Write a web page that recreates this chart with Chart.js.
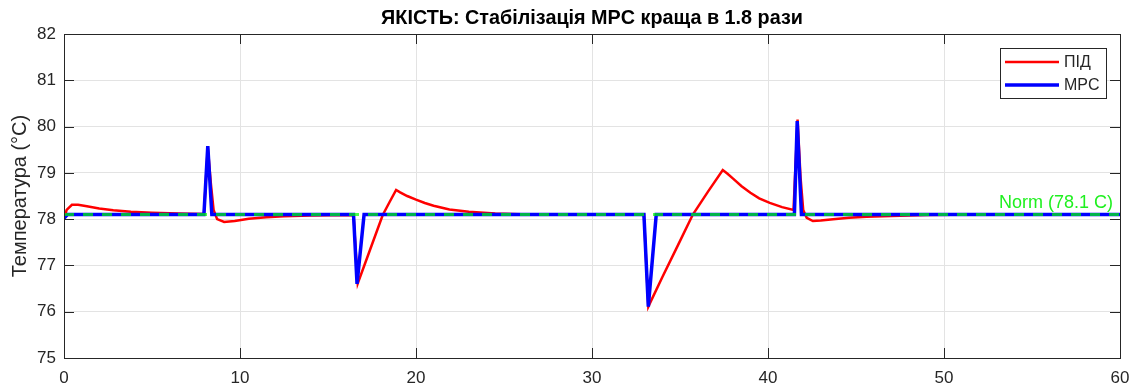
<!DOCTYPE html>
<html>
<head>
<meta charset="utf-8">
<title>ЯКІСТЬ</title>
<script src="https://cdn.jsdelivr.net/npm/chart.js@4"></script>
<style>
  html, body { margin: 0; padding: 0; background: #fff; }
  #wrap { width: 1135px; height: 389px; }
</style>
</head>
<body>
<div id="wrap"><canvas id="qualityChart" width="1135" height="389"></canvas></div>
<script>
// PID response (time, °C)
const pidTime = [0, 0.15, 0.45, 0.8, 1.3, 2.0, 2.8, 3.8, 5.0, 6.5, 7.95, 8.17, 8.35, 8.5, 8.7, 9.1, 9.7, 10.5, 11.5, 12.5, 14.0, 16.45,
  16.69, 17.4, 18.11, 18.5, 18.87, 19.1, 19.5, 20.0, 20.5, 21.0, 21.9, 23.0, 24.5, 26.5, 32.95,
  33.2, 34.0, 34.9, 35.73, 36.6, 37.43, 37.7, 38.0, 38.5, 39.0, 39.5, 40.1, 40.8, 41.45, 41.68, 41.85, 42.0, 42.2, 42.55,
  43.0, 43.7, 44.6, 45.6, 47.0, 49.0, 52.0, 60];
const pidTemp = [78.00, 78.20, 78.31, 78.31, 78.28, 78.23, 78.19, 78.16, 78.14, 78.12, 78.11, 79.55, 78.75, 78.20, 78.00, 77.94, 77.96, 78.01, 78.04, 78.06, 78.08, 78.09,
  76.61, 77.35, 78.09, 78.37, 78.63, 78.58, 78.50, 78.42, 78.35, 78.29, 78.21, 78.16, 78.12, 78.10, 78.10,
  76.11, 76.75, 77.45, 78.10, 78.60, 79.06, 78.98, 78.88, 78.71, 78.57, 78.45, 78.35, 78.26, 78.20, 80.15, 78.90, 78.20, 78.03, 77.96,
  77.97, 78.00, 78.03, 78.05, 78.07, 78.09, 78.10, 78.10];

// MPC response (time, °C)
const mpcTime = [0, 0.2, 7.95, 8.17, 8.4, 16.45, 16.65, 17.05, 32.95, 33.2, 33.65, 41.5, 41.66, 41.9, 60];
const mpcTemp = [78.02, 78.10, 78.10, 79.58, 78.10, 78.10, 76.60, 78.10, 78.10, 76.11, 78.10, 78.10, 80.12, 78.10, 78.10];

// setpoint
const normTemp = 78.1;
const normTime = [0, 60];

// axis ticks
const xTicks = [0, 10, 20, 30, 40, 50, 60];
const yTicks = [75, 76, 77, 78, 79, 80, 81, 82];

const chartTitle = 'ЯКІСТЬ: Стабілізація MPC краща в 1.8 рази';

const toPoints = (xs, ys) => xs.map((x, i) => ({ x: x, y: ys[i] }));

const axisColor = '#262626';
const font = 'Arial, "Liberation Sans", Helvetica, sans-serif';

// title over the axes, box, inward ticks, legend and the setpoint label
const matlabAxes = {
  id: 'matlabAxes',
  afterDatasetsDraw(chart) {
    const { ctx, chartArea: a, scales } = chart;
    ctx.save();

    ctx.fillStyle = '#000';
    ctx.font = 'bold 19.8px ' + font;
    ctx.textAlign = 'center';
    ctx.textBaseline = 'alphabetic';
    ctx.fillText(chartTitle, (a.left + a.right) / 2, 24);

    ctx.strokeStyle = axisColor;
    ctx.lineWidth = 1;
    ctx.strokeRect(Math.round(a.left) + 0.5, Math.round(a.top) + 0.5,
      Math.round(a.right - a.left), Math.round(a.bottom - a.top));
    const tl = 10;
    ctx.beginPath();
    xTicks.forEach(v => {
      const px = Math.round(scales.x.getPixelForValue(v)) + 0.5;
      ctx.moveTo(px, a.bottom); ctx.lineTo(px, a.bottom - tl);
      ctx.moveTo(px, a.top); ctx.lineTo(px, a.top + tl);
    });
    yTicks.forEach(v => {
      const py = Math.round(scales.y.getPixelForValue(v)) + 0.5;
      ctx.moveTo(a.left, py); ctx.lineTo(a.left + tl, py);
      ctx.moveTo(a.right, py); ctx.lineTo(a.right - tl, py);
    });
    ctx.stroke();

    // setpoint label
    ctx.fillStyle = '#1ff01f';
    ctx.font = '18px ' + font;
    ctx.textAlign = 'right';
    ctx.fillText('Norm (' + normTemp + ' C)', a.right - 7, scales.y.getPixelForValue(normTemp) - 7);

    // legend
    const lx = 1000, ly = 48, lw = 106, lh = 50;
    ctx.fillStyle = '#fff';
    ctx.fillRect(lx, ly, lw, lh);
    ctx.strokeStyle = axisColor;
    ctx.strokeRect(lx + 0.5, ly + 0.5, lw, lh);
    ctx.font = '16px ' + font;
    ctx.textAlign = 'left';
    ctx.textBaseline = 'middle';
    [0, 1].forEach((di, i) => {
      const ds = chart.data.datasets[di];
      const y = ly + 14 + i * 23;
      ctx.strokeStyle = ds.borderColor;
      ctx.lineWidth = ds.borderWidth;
      ctx.beginPath();
      ctx.moveTo(lx + 5, y); ctx.lineTo(lx + 59, y);
      ctx.stroke();
      ctx.fillStyle = axisColor;
      ctx.fillText(ds.label, lx + 64, y + 1);
    });
    ctx.restore();
  }
};

new Chart(document.getElementById('qualityChart'), {
  type: 'line',
  data: {
    datasets: [
      {
        label: 'ПІД',
        data: toPoints(pidTime, pidTemp),
        borderColor: '#ff0000',
        borderWidth: 2.5,
        order: 2
      },
      {
        label: 'MPC',
        data: toPoints(mpcTime, mpcTemp),
        borderColor: '#0000ff',
        borderWidth: 3.5,
        order: 1
      },
      {
        label: 'Norm',
        data: toPoints(normTime, [normTemp, normTemp]),
        borderColor: 'rgba(0, 255, 0, 0.7)',
        borderWidth: 3,
        borderDash: [10, 9],
        order: 0
      }
    ]
  },
  options: {
    responsive: false,
    animation: false,
    events: [],
    elements: { point: { radius: 0 }, line: { tension: 0, fill: false } },
    layout: { padding: { top: 34, right: 15, left: 0, bottom: 0 } },
    plugins: {
      legend: { display: false },
      tooltip: { enabled: false },
      title: { display: false }
    },
    scales: {
      x: {
        type: 'linear',
        min: 0,
        max: 60,
        afterBuildTicks: s => { s.ticks = xTicks.map(v => ({ value: v })); },
        afterFit: s => { s.height = 31; s.paddingLeft = 0; s.paddingRight = 0; },
        ticks: { color: axisColor, font: { family: font, size: 17 }, padding: 10, maxRotation: 0 },
        grid: { color: '#e3e3e3', drawTicks: false },
        border: { display: false }
      },
      y: {
        min: 75,
        max: 82,
        afterBuildTicks: s => { s.ticks = yTicks.map(v => ({ value: v })); },
        afterFit: s => { s.width = 64; },
        ticks: { color: axisColor, font: { family: font, size: 17 }, padding: 8 },
        grid: { color: '#e3e3e3', drawTicks: false },
        border: { display: false },
        title: {
          display: true,
          text: 'Температура (°C)',
          color: axisColor,
          font: { family: font, size: 20 },
          padding: { top: 8, bottom: 0 }
        }
      }
    }
  },
  plugins: [matlabAxes]
});
</script>
</body>
</html>
